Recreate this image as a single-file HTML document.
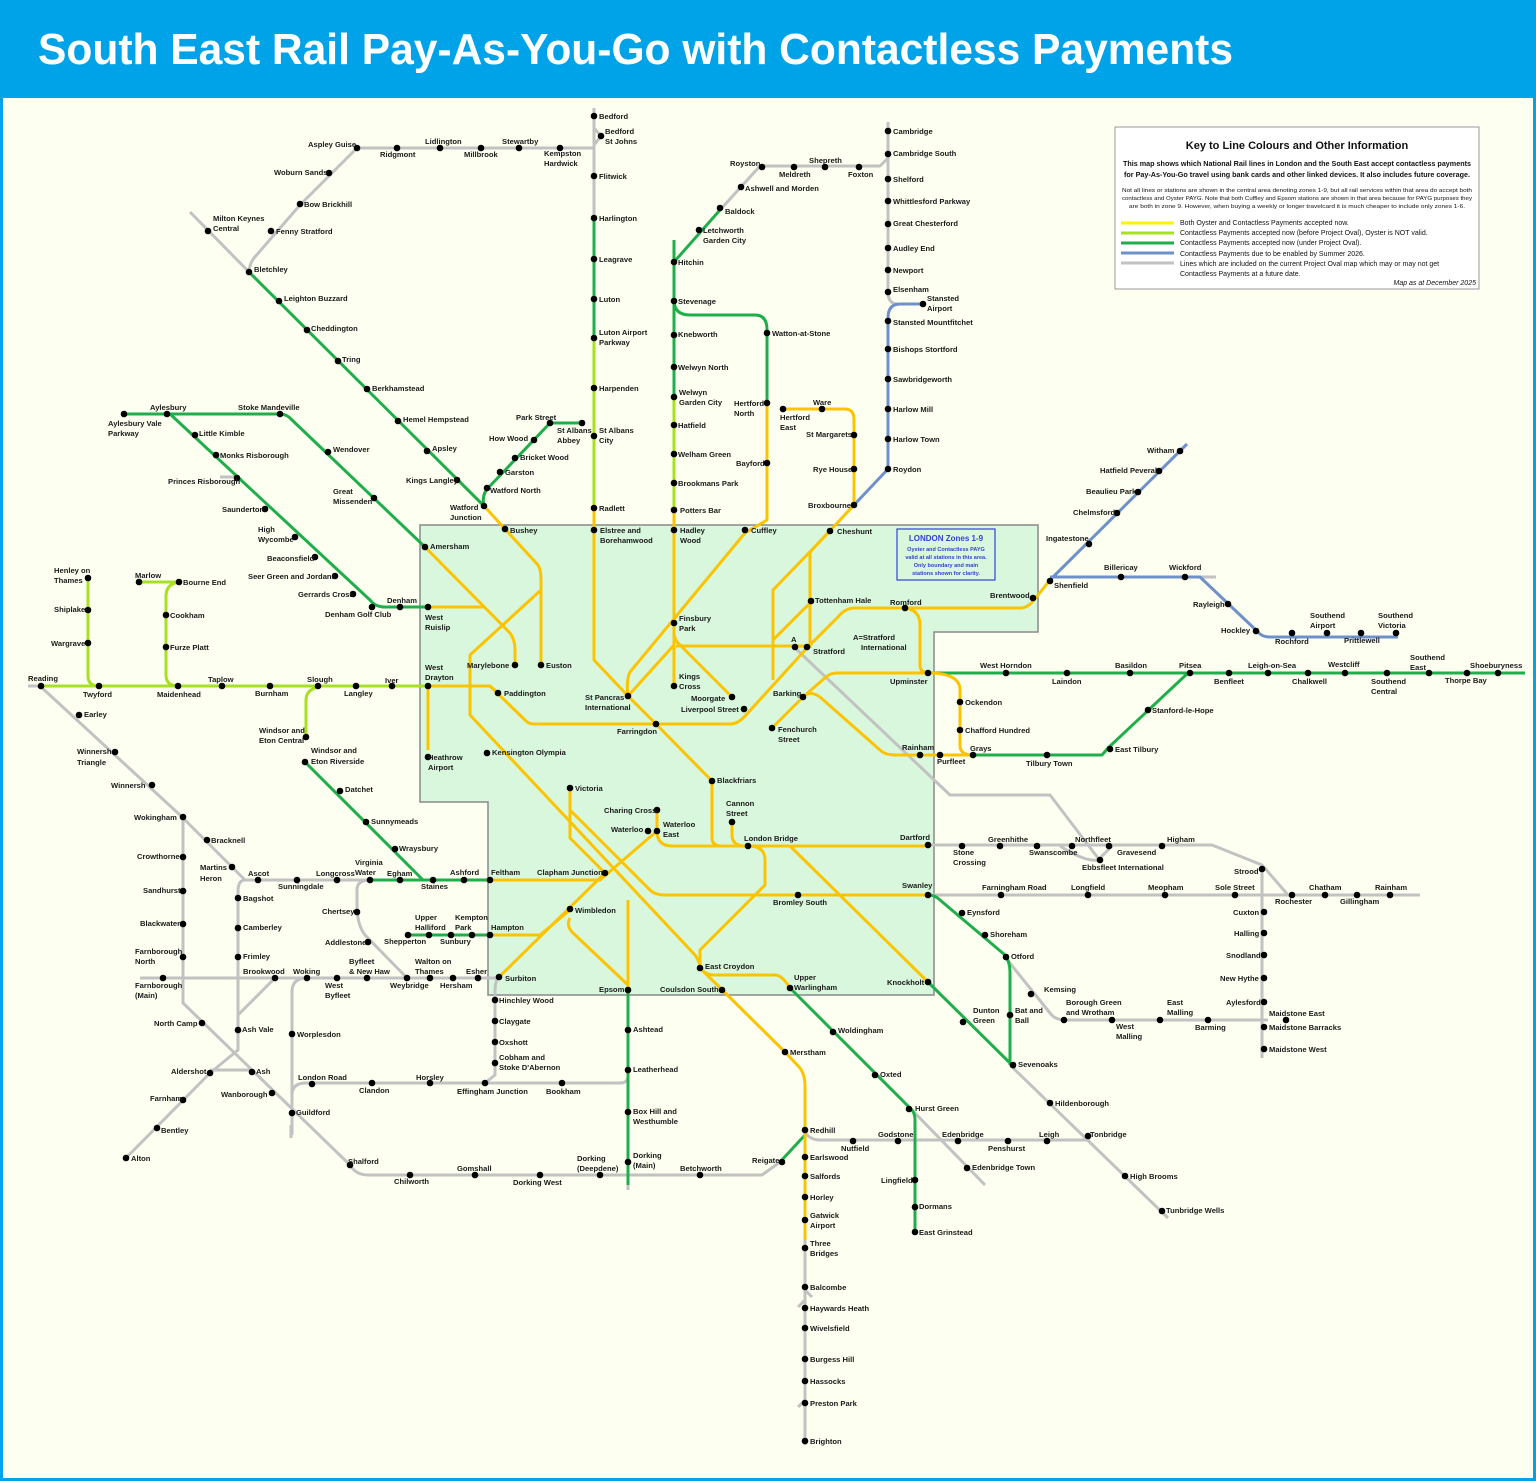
<!DOCTYPE html>
<html><head><meta charset="utf-8"><style>
html,body{margin:0;padding:0;background:#fff}
svg{display:block}
.s text{font-family:"Liberation Sans",sans-serif;font-weight:bold;font-size:7.6px;fill:#1a1a1a}
.l{fill:none;stroke-width:3;stroke-linejoin:round;stroke-linecap:butt}
.y{stroke:#fcc400}.g{stroke:#1fae4b}.m{stroke:#a8e022}.b{stroke:#6f90c8}.r{stroke:#c2c2c2}
</style></head><body>
<svg width="1536" height="1481" viewBox="0 0 1536 1481" xmlns="http://www.w3.org/2000/svg">
<rect x="0" y="0" width="1536" height="1481" fill="#00a3e8"/>
<rect x="3" y="98" width="1530" height="1380" fill="#fdfff0"/>
<text x="38" y="64" font-family="Liberation Sans,sans-serif" font-weight="bold" font-size="44" fill="#fff" textLength="1195" lengthAdjust="spacingAndGlyphs">South East Rail Pay-As-You-Go with Contactless Payments</text>

<polygon points="420,525 1038,525 1038,632 934,632 934,995 488,995 488,802 420,802" fill="#d8f7dc" stroke="#8a8a8a" stroke-width="1.5"/>

<!-- key -->
<rect x="1115" y="127" width="364" height="162" fill="#fff" stroke="#999" stroke-width="1"/>
<g font-family="Liberation Sans,sans-serif" fill="#111">
<text x="1297" y="149" font-size="11" font-weight="bold" text-anchor="middle">Key to Line Colours and Other Information</text>
<text x="1297" y="166" font-size="7" font-weight="bold" text-anchor="middle" textLength="348" lengthAdjust="spacingAndGlyphs">This map shows which National Rail lines in London and the South East accept contactless payments</text>
<text x="1297" y="177" font-size="7" font-weight="bold" text-anchor="middle" textLength="346" lengthAdjust="spacingAndGlyphs">for Pay-As-You-Go travel using bank cards and other linked devices. It also includes future coverage.</text>
<text x="1297" y="192" font-size="5.4" text-anchor="middle" textLength="350" lengthAdjust="spacingAndGlyphs">Not all lines or stations are shown in the central area denoting zones 1-9, but all rail services within that area do accept both</text>
<text x="1297" y="200" font-size="5.4" text-anchor="middle" textLength="350" lengthAdjust="spacingAndGlyphs">contactless and Oyster PAYG. Note that both Cuffley and Epsom stations are shown in that area because for PAYG purposes they</text>
<text x="1297" y="208" font-size="5.4" text-anchor="middle" textLength="336" lengthAdjust="spacingAndGlyphs">are both in zone 9. However, when buying a weekly or longer travelcard it is much cheaper to include only zones 1-6.</text>
<g font-size="7">
<text x="1180" y="225">Both Oyster and Contactless Payments accepted now.</text>
<text x="1180" y="235">Contactless Payments accepted now (before Project Oval), Oyster is NOT valid.</text>
<text x="1180" y="245">Contactless Payments accepted now (under Project Oval).</text>
<text x="1180" y="256">Contactless Payments due to be enabled by Summer 2026.</text>
<text x="1180" y="266">Lines which are included on the current Project Oval map which may or may not get</text>
<text x="1180" y="276">Contactless Payments at a future date.</text>
<text x="1476" y="285" font-style="italic" text-anchor="end">Map as at December 2025</text>
</g></g>
<g stroke-width="3">
<line x1="1121" y1="223" x2="1174" y2="223" stroke="#fff200"/>
<line x1="1121" y1="233" x2="1174" y2="233" stroke="#a8e022"/>
<line x1="1121" y1="243" x2="1174" y2="243" stroke="#1fae4b"/>
<line x1="1121" y1="253" x2="1174" y2="253" stroke="#6f90c8"/>
<line x1="1121" y1="263" x2="1174" y2="263" stroke="#c2c2c2"/>
</g>

<rect x="897" y="529" width="98" height="51" fill="none" stroke="#3344dd" stroke-width="1.2"/>
<g font-family="Liberation Sans,sans-serif" font-weight="bold" fill="#3344cc" text-anchor="middle">
<text x="946" y="541" font-size="8">LONDON Zones 1-9</text>
<text x="946" y="551" font-size="5.5">Oyster and Contactless PAYG</text>
<text x="946" y="559" font-size="5.5">valid at all stations in this area.</text>
<text x="946" y="567" font-size="5.5">Only boundary and main</text>
<text x="946" y="575" font-size="5.5">stations shown for clarity.</text>
</g>

<!-- GRAY -->
<g class="l r">
<path d="M594,108 V218"/><path d="M594,128 L601,136 L594,145"/>
<path d="M594,148 H357 L300,205 L254,258 Q249,265 249,272"/>
<path d="M190,212 L249,272"/>
<path d="M888,122 V292 Q888,304 898,304"/>
<path d="M888,158 L880,166 H760 L720,210"/>
<path d="M1198,577 H1216"/>
<path d="M28,686 H40"/>
<path d="M220,477 H236"/>
<path d="M40,686 L180,815 L245,880 H370"/>
<path d="M183,817 V1003 L350,1165 Q356,1175 368,1175 H762 L780,1162"/>
<path d="M245,880 Q238,880 238,892 V1050 L210,1073 L126,1158"/>
<path d="M210,1070 H252"/>
<path d="M275,978 L238,1015"/>
<path d="M140,978 H497"/>
<path d="M307,978 Q292,978 292,992 V1135"/>
<path d="M292,1095 Q292,1083 306,1083 H620 Q628,1083 628,1076"/>
<path d="M499,977 Q495,980 495,992 V1075 L485,1083"/>
<path d="M407,978 L365,935 Q357,925 357,905 V890 Q357,880 370,880"/>
<path d="M805,1132 Q810,1140 820,1140 H1090"/>
<path d="M910,1108 L985,1185"/>
<path d="M1010,1065 L1168,1218"/>
<path d="M1005,957 L1050,1013 Q1055,1020 1065,1020 H1268"/>
<path d="M1262,865 V1058"/>
<path d="M928,845 H1212 L1262,865 L1288,895"/>
<path d="M1060,846 Q1085,862 1098,860 L1112,846"/>
<path d="M795,648 L950,795 H1050 L1098,858"/>
<path d="M928,895 H1420"/>
<path d="M805,1240 V1445"/>
<path d="M805,1300 L798,1307 M805,1400 L798,1407 M805,1290 L812,1297"/>
<path d="M628,1185 V1190"/>
<path d="M291,1125 V1138"/>
</g>

<!-- BLUE -->
<g class="l b">
<path d="M923,304 H900 Q888,304 888,318 V469 L854,505"/>
<path d="M1187,444 L1050,580"/>
<path d="M1050,577 H1200 L1258,632 Q1262,637 1270,637 H1398"/>
</g>

<!-- LIME -->
<g class="l m">
<path d="M594,338 V508"/>
<path d="M674,397 V510"/>
<path d="M40,686 H428"/>
<path d="M88,577 V676 Q88,686 99,686"/>
<path d="M139,582 H179 Q166,584 166,596 V675 Q166,686 178,686"/>
<path d="M318,687 Q306,690 306,700 V737"/>
</g>

<!-- GREEN -->
<g class="l g">
<path d="M594,218 V338"/>
<path d="M674,240 V397"/>
<path d="M674,262 L720,210"/>
<path d="M674,300 Q674,315 690,315 H755 Q767,315 767,330 V402"/>
<path d="M124,414 H280 Q287,414 292,420 L425,547"/>
<path d="M170,414 L370,600 Q375,607 385,607 H428"/>
<path d="M249,272 L484,506"/>
<path d="M484,506 Q481,494 490,486 L550,423 H582"/>
<path d="M305,762 L423,880"/>
<path d="M370,880 H490"/>
<path d="M408,935 H490"/>
<path d="M628,990 V1185"/>
<path d="M790,988 L912,1110 Q915,1114 915,1120 V1232"/>
<path d="M780,1162 L805,1135"/>
<path d="M928,895 Q935,895 940,900 L1005,955 Q1010,962 1010,972 V1065"/>
<path d="M928,982 L1015,1068"/>
<path d="M928,673 H1525"/>
<path d="M1188,673 L1108,748 L1102,755 H972"/>
</g>

<!-- YELLOW -->
<g class="l y">
<path d="M594,508 V660 L628,696 L656,724 L712,781 V838 Q712,846 722,846 H928"/>
<path d="M428,686 H490 L525,720 Q528,724 535,724 H730 Q738,724 745,716 L807,648 L838,617 Q845,608 855,608 H1020 Q1028,608 1034,600 L1050,580"/>
<path d="M490,686 L498,693"/>
<path d="M905,608 Q920,610 920,625 V665 Q920,673 930,673"/>
<path d="M928,673 Q960,673 960,690 V745 Q960,755 972,755"/>
<path d="M772,728 L803,697 L826,677 Q830,673 838,673 H928"/>
<path d="M803,697 Q810,690 820,697 L880,750 Q885,755 895,755 H972"/>
<path d="M674,510 V686"/>
<path d="M767,402 V520 L745,533 L630,672 Q626,680 628,696"/>
<path d="M674,645 L628,696"/>
<path d="M674,632 Q674,640 680,645 L732,697"/>
<path d="M676,646 H807"/>
<path d="M854,505 L810,552 V648"/>
<path d="M830,531 L773,590 V680"/>
<path d="M811,602 L773,640"/>
<path d="M783,409 H845 Q854,409 854,420 V505"/>
<path d="M425,547 L510,633 Q515,640 515,650 V665"/>
<path d="M428,607 H485"/>
<path d="M484,506 L538,565 Q541,570 541,580 V665"/>
<path d="M428,686 V750"/>
<path d="M541,590 L470,655 V715 L695,955 Q700,962 700,968"/>
<path d="M490,880 H600 L657,831 V810"/>
<path d="M657,831 Q657,846 672,846 H748"/>
<path d="M732,822 V835 Q732,846 745,846"/>
<path d="M605,873 L570,838 V788"/>
<path d="M570,810 L650,890 Q655,895 665,895 H928"/>
<path d="M490,935 H540 L570,910"/>
<path d="M499,977 L605,873"/>
<path d="M570,918 Q566,925 572,932 L628,985"/>
<path d="M628,900 V990"/>
<path d="M748,846 Q765,846 765,860 V885 L700,950 V968 L785,1052 L800,1068 Q805,1075 805,1085 V1240"/>
<path d="M700,968 Q705,975 715,975 H775 Q782,975 790,988"/>
<path d="M790,846 L928,982"/>
</g>

<!-- STATIONS -->
<g fill="#000">
<circle cx="594" cy="116" r="3.3"/><circle cx="601" cy="136" r="3.3"/><circle cx="594" cy="176" r="3.3"/><circle cx="594" cy="218" r="3.3"/><circle cx="594" cy="259" r="3.3"/><circle cx="594" cy="299" r="3.3"/><circle cx="594" cy="338" r="3.3"/><circle cx="594" cy="388" r="3.3"/><circle cx="594" cy="436" r="3.3"/><circle cx="594" cy="508" r="3.3"/><circle cx="594" cy="530" r="3.3"/>
<circle cx="357" cy="148" r="3.3"/><circle cx="397" cy="148" r="3.3"/><circle cx="440" cy="148" r="3.3"/><circle cx="481" cy="148" r="3.3"/><circle cx="519" cy="148" r="3.3"/><circle cx="560" cy="148" r="3.3"/><circle cx="329" cy="173" r="3.3"/><circle cx="300" cy="204" r="3.3"/><circle cx="271" cy="231" r="3.3"/><circle cx="208" cy="231" r="3.3"/><circle cx="249" cy="272" r="3.3"/>
<circle cx="279" cy="301" r="3.3"/><circle cx="307" cy="330" r="3.3"/><circle cx="338" cy="361" r="3.3"/><circle cx="367" cy="389" r="3.3"/><circle cx="398" cy="421" r="3.3"/><circle cx="427" cy="451" r="3.3"/><circle cx="457" cy="480" r="3.3"/><circle cx="484" cy="506" r="3.3"/>
<circle cx="487" cy="488" r="3.3"/><circle cx="500" cy="472" r="3.3"/><circle cx="515" cy="458" r="3.3"/><circle cx="534" cy="440" r="3.3"/><circle cx="550" cy="423" r="3.3"/><circle cx="582" cy="423" r="3.3"/>
<circle cx="124" cy="414" r="3.3"/><circle cx="167" cy="414" r="3.3"/><circle cx="280" cy="414" r="3.3"/><circle cx="328" cy="452" r="3.3"/><circle cx="374" cy="498" r="3.3"/><circle cx="425" cy="547" r="3.3"/>
<circle cx="195" cy="435" r="3.3"/><circle cx="216" cy="455" r="3.3"/><circle cx="237" cy="478" r="3.3"/><circle cx="265" cy="509" r="3.3"/><circle cx="295" cy="537" r="3.3"/><circle cx="315" cy="557" r="3.3"/><circle cx="335" cy="576" r="3.3"/><circle cx="353" cy="594" r="3.3"/><circle cx="372" cy="607" r="3.3"/><circle cx="400" cy="607" r="3.3"/><circle cx="428" cy="607" r="3.3"/>
<circle cx="88" cy="578" r="3.3"/><circle cx="88" cy="610" r="3.3"/><circle cx="88" cy="643" r="3.3"/><circle cx="139" cy="582" r="3.3"/><circle cx="179" cy="582" r="3.3"/><circle cx="166" cy="615" r="3.3"/><circle cx="166" cy="647" r="3.3"/>
<circle cx="41" cy="686" r="3.3"/><circle cx="99" cy="686" r="3.3"/><circle cx="178" cy="686" r="3.3"/><circle cx="222" cy="686" r="3.3"/><circle cx="270" cy="686" r="3.3"/><circle cx="318" cy="686" r="3.3"/><circle cx="356" cy="686" r="3.3"/><circle cx="392" cy="686" r="3.3"/><circle cx="428" cy="686" r="3.3"/><circle cx="306" cy="737" r="3.3"/><circle cx="305" cy="762" r="3.3"/>
<circle cx="79" cy="715" r="3.3"/><circle cx="115" cy="752" r="3.3"/><circle cx="152" cy="785" r="3.3"/><circle cx="183" cy="817" r="3.3"/><circle cx="207" cy="840" r="3.3"/><circle cx="232" cy="867" r="3.3"/><circle cx="258" cy="880" r="3.3"/><circle cx="297" cy="880" r="3.3"/><circle cx="337" cy="880" r="3.3"/><circle cx="370" cy="880" r="3.3"/><circle cx="400" cy="880" r="3.3"/><circle cx="433" cy="880" r="3.3"/><circle cx="464" cy="880" r="3.3"/><circle cx="490" cy="880" r="3.3"/>
<circle cx="340" cy="791" r="3.3"/><circle cx="366" cy="822" r="3.3"/><circle cx="395" cy="849" r="3.3"/>
<circle cx="183" cy="857" r="3.3"/><circle cx="183" cy="891" r="3.3"/><circle cx="183" cy="924" r="3.3"/><circle cx="183" cy="957" r="3.3"/><circle cx="163" cy="978" r="3.3"/><circle cx="202" cy="1023" r="3.3"/><circle cx="252" cy="1072" r="3.3"/><circle cx="272" cy="1093" r="3.3"/><circle cx="292" cy="1113" r="3.3"/><circle cx="350" cy="1165" r="3.3"/>
<circle cx="238" cy="898" r="3.3"/><circle cx="238" cy="928" r="3.3"/><circle cx="238" cy="957" r="3.3"/><circle cx="238" cy="1030" r="3.3"/><circle cx="210" cy="1073" r="3.3"/><circle cx="183" cy="1100" r="3.3"/><circle cx="157" cy="1128" r="3.3"/><circle cx="126" cy="1158" r="3.3"/>
<circle cx="275" cy="978" r="3.3"/><circle cx="307" cy="978" r="3.3"/><circle cx="337" cy="978" r="3.3"/><circle cx="367" cy="978" r="3.3"/><circle cx="407" cy="978" r="3.3"/><circle cx="430" cy="978" r="3.3"/><circle cx="453" cy="978" r="3.3"/><circle cx="478" cy="978" r="3.3"/><circle cx="499" cy="977" r="3.3"/>
<circle cx="357" cy="912" r="3.3"/><circle cx="368" cy="942" r="3.3"/><circle cx="408" cy="935" r="3.3"/><circle cx="429" cy="935" r="3.3"/><circle cx="451" cy="935" r="3.3"/><circle cx="472" cy="935" r="3.3"/><circle cx="490" cy="935" r="3.3"/>
<circle cx="292" cy="1034" r="3.3"/><circle cx="312" cy="1084" r="3.3"/><circle cx="372" cy="1083" r="3.3"/><circle cx="430" cy="1083" r="3.3"/><circle cx="485" cy="1083" r="3.3"/><circle cx="562" cy="1083" r="3.3"/>
<circle cx="495" cy="1000" r="3.3"/><circle cx="495" cy="1021" r="3.3"/><circle cx="495" cy="1042" r="3.3"/><circle cx="495" cy="1063" r="3.3"/>
<circle cx="410" cy="1175" r="3.3"/><circle cx="475" cy="1175" r="3.3"/><circle cx="540" cy="1175" r="3.3"/><circle cx="600" cy="1175" r="3.3"/><circle cx="628" cy="1162" r="3.3"/><circle cx="700" cy="1175" r="3.3"/><circle cx="782" cy="1162" r="3.3"/>
<circle cx="628" cy="1030" r="3.3"/><circle cx="628" cy="1070" r="3.3"/><circle cx="628" cy="1112" r="3.3"/><circle cx="628" cy="990" r="3.3"/>
<circle cx="805" cy="1130" r="3.3"/><circle cx="805" cy="1157" r="3.3"/><circle cx="805" cy="1176" r="3.3"/><circle cx="805" cy="1197" r="3.3"/><circle cx="805" cy="1220" r="3.3"/><circle cx="805" cy="1248" r="3.3"/><circle cx="805" cy="1287" r="3.3"/><circle cx="805" cy="1308" r="3.3"/><circle cx="805" cy="1328" r="3.3"/><circle cx="805" cy="1359" r="3.3"/><circle cx="805" cy="1381" r="3.3"/><circle cx="805" cy="1403" r="3.3"/><circle cx="805" cy="1441" r="3.3"/><circle cx="785" cy="1052" r="3.3"/>
<circle cx="853" cy="1141" r="3.3"/><circle cx="898" cy="1141" r="3.3"/><circle cx="958" cy="1141" r="3.3"/><circle cx="1008" cy="1141" r="3.3"/><circle cx="1047" cy="1141" r="3.3"/><circle cx="967" cy="1168" r="3.3"/><circle cx="1088" cy="1136" r="3.3"/>
<circle cx="790" cy="988" r="3.3"/><circle cx="833" cy="1032" r="3.3"/><circle cx="875" cy="1075" r="3.3"/><circle cx="909" cy="1109" r="3.3"/><circle cx="915" cy="1180" r="3.3"/><circle cx="915" cy="1207" r="3.3"/><circle cx="915" cy="1232" r="3.3"/>
<circle cx="1050" cy="1103" r="3.3"/><circle cx="1125" cy="1176" r="3.3"/><circle cx="1162" cy="1211" r="3.3"/>
<circle cx="928" cy="845" r="3.3"/><circle cx="962" cy="846" r="3.3"/><circle cx="1000" cy="846" r="3.3"/><circle cx="1037" cy="846" r="3.3"/><circle cx="1072" cy="846" r="3.3"/><circle cx="1100" cy="860" r="3.3"/><circle cx="1109" cy="846" r="3.3"/><circle cx="1162" cy="846" r="3.3"/><circle cx="1262" cy="869" r="3.3"/>
<circle cx="928" cy="895" r="3.3"/><circle cx="1001" cy="895" r="3.3"/><circle cx="1088" cy="895" r="3.3"/><circle cx="1165" cy="895" r="3.3"/><circle cx="1235" cy="895" r="3.3"/><circle cx="1292" cy="895" r="3.3"/><circle cx="1325" cy="895" r="3.3"/><circle cx="1357" cy="895" r="3.3"/><circle cx="1390" cy="895" r="3.3"/>
<circle cx="1264" cy="912" r="3.3"/><circle cx="1264" cy="933" r="3.3"/><circle cx="1264" cy="955" r="3.3"/><circle cx="1264" cy="978" r="3.3"/><circle cx="1264" cy="1002" r="3.3"/><circle cx="1264" cy="1027" r="3.3"/><circle cx="1264" cy="1049" r="3.3"/><circle cx="1286" cy="1020" r="3.3"/>
<circle cx="962" cy="913" r="3.3"/><circle cx="985" cy="935" r="3.3"/><circle cx="1006" cy="957" r="3.3"/><circle cx="1010" cy="1015" r="3.3"/><circle cx="963" cy="1022" r="3.3"/><circle cx="1013" cy="1065" r="3.3"/><circle cx="928" cy="982" r="3.3"/>
<circle cx="1031" cy="994" r="3.3"/><circle cx="1064" cy="1020" r="3.3"/><circle cx="1112" cy="1020" r="3.3"/><circle cx="1160" cy="1020" r="3.3"/><circle cx="1208" cy="1020" r="3.3"/>
<circle cx="888" cy="131" r="3.3"/><circle cx="888" cy="154" r="3.3"/><circle cx="888" cy="179" r="3.3"/><circle cx="888" cy="201" r="3.3"/><circle cx="888" cy="224" r="3.3"/><circle cx="888" cy="248" r="3.3"/><circle cx="888" cy="270" r="3.3"/><circle cx="888" cy="292" r="3.3"/><circle cx="923" cy="304" r="3.3"/><circle cx="888" cy="321" r="3.3"/><circle cx="888" cy="349" r="3.3"/><circle cx="888" cy="379" r="3.3"/><circle cx="888" cy="409" r="3.3"/><circle cx="888" cy="439" r="3.3"/><circle cx="888" cy="469" r="3.3"/>
<circle cx="762" cy="167" r="3.3"/><circle cx="794" cy="167" r="3.3"/><circle cx="825" cy="167" r="3.3"/><circle cx="859" cy="167" r="3.3"/><circle cx="741" cy="187" r="3.3"/><circle cx="720" cy="208" r="3.3"/><circle cx="699" cy="230" r="3.3"/>
<circle cx="674" cy="262" r="3.3"/><circle cx="674" cy="301" r="3.3"/><circle cx="674" cy="335" r="3.3"/><circle cx="674" cy="367" r="3.3"/><circle cx="674" cy="397" r="3.3"/><circle cx="674" cy="425" r="3.3"/><circle cx="674" cy="454" r="3.3"/><circle cx="674" cy="483" r="3.3"/><circle cx="674" cy="510" r="3.3"/><circle cx="674" cy="530" r="3.3"/>
<circle cx="767" cy="333" r="3.3"/><circle cx="767" cy="403" r="3.3"/><circle cx="767" cy="463" r="3.3"/><circle cx="745" cy="530" r="3.3"/>
<circle cx="783" cy="409" r="3.3"/><circle cx="822" cy="409" r="3.3"/><circle cx="854" cy="435" r="3.3"/><circle cx="854" cy="469" r="3.3"/><circle cx="854" cy="505" r="3.3"/><circle cx="830" cy="531" r="3.3"/>
<circle cx="1180" cy="451" r="3.3"/><circle cx="1159" cy="471" r="3.3"/><circle cx="1138" cy="492" r="3.3"/><circle cx="1117" cy="513" r="3.3"/><circle cx="1089" cy="544" r="3.3"/><circle cx="1050" cy="581" r="3.3"/><circle cx="1033" cy="598" r="3.3"/>
<circle cx="1121" cy="577" r="3.3"/><circle cx="1185" cy="577" r="3.3"/><circle cx="1228" cy="604" r="3.3"/><circle cx="1256" cy="631" r="3.3"/><circle cx="1292" cy="633" r="3.3"/><circle cx="1327" cy="633" r="3.3"/><circle cx="1361" cy="633" r="3.3"/><circle cx="1396" cy="633" r="3.3"/>
<circle cx="928" cy="673" r="3.3"/><circle cx="1006" cy="673" r="3.3"/><circle cx="1067" cy="673" r="3.3"/><circle cx="1130" cy="673" r="3.3"/><circle cx="1190" cy="673" r="3.3"/><circle cx="1229" cy="673" r="3.3"/><circle cx="1268" cy="673" r="3.3"/><circle cx="1308" cy="673" r="3.3"/><circle cx="1345" cy="673" r="3.3"/><circle cx="1387" cy="673" r="3.3"/><circle cx="1429" cy="673" r="3.3"/><circle cx="1467" cy="673" r="3.3"/><circle cx="1498" cy="673" r="3.3"/>
<circle cx="1148" cy="710" r="3.3"/><circle cx="1110" cy="749" r="3.3"/><circle cx="1047" cy="755" r="3.3"/><circle cx="973" cy="755" r="3.3"/><circle cx="940" cy="755" r="3.3"/><circle cx="920" cy="755" r="3.3"/><circle cx="960" cy="702" r="3.3"/><circle cx="960" cy="730" r="3.3"/><circle cx="905" cy="608" r="3.3"/>
<circle cx="505" cy="529" r="3.3"/><circle cx="515" cy="665" r="3.3"/><circle cx="541" cy="665" r="3.3"/><circle cx="498" cy="693" r="3.3"/><circle cx="428" cy="757" r="3.3"/><circle cx="487" cy="753" r="3.3"/>
<circle cx="628" cy="696" r="3.3"/><circle cx="656" cy="724" r="3.3"/><circle cx="674" cy="686" r="3.3"/><circle cx="674" cy="623" r="3.3"/><circle cx="732" cy="697" r="3.3"/><circle cx="744" cy="709" r="3.3"/><circle cx="795" cy="647" r="3.3"/><circle cx="807" cy="647" r="3.3"/><circle cx="811" cy="601" r="3.3"/><circle cx="803" cy="697" r="3.3"/><circle cx="772" cy="728" r="3.3"/>
<circle cx="712" cy="781" r="3.3"/><circle cx="732" cy="822" r="3.3"/><circle cx="748" cy="846" r="3.3"/><circle cx="570" cy="788" r="3.3"/><circle cx="657" cy="810" r="3.3"/><circle cx="648" cy="831" r="3.3"/><circle cx="657" cy="831" r="3.3"/><circle cx="605" cy="873" r="3.3"/><circle cx="570" cy="909" r="3.3"/><circle cx="798" cy="895" r="3.3"/><circle cx="700" cy="968" r="3.3"/><circle cx="722" cy="990" r="3.3"/>
</g>

<!-- LABELS -->
<g class="s">
<text x="599" y="119">Bedford</text><text x="605" y="134">Bedford</text><text x="605" y="144">St Johns</text><text x="599" y="179">Flitwick</text><text x="599" y="221">Harlington</text><text x="599" y="262">Leagrave</text><text x="599" y="302">Luton</text><text x="599" y="335">Luton Airport</text><text x="599" y="345">Parkway</text><text x="599" y="391">Harpenden</text><text x="599" y="433">St Albans</text><text x="599" y="443">City</text><text x="599" y="511">Radlett</text><text x="600" y="533">Elstree and</text><text x="600" y="543">Borehamwood</text>
<text x="308" y="147">Aspley Guise</text><text x="380" y="157">Ridgmont</text><text x="425" y="144">Lidlington</text><text x="464" y="157">Millbrook</text><text x="502" y="144">Stewartby</text><text x="544" y="156">Kempston</text><text x="544" y="166">Hardwick</text><text x="274" y="175">Woburn Sands</text><text x="304" y="207">Bow Brickhill</text><text x="276" y="234">Fenny Stratford</text><text x="213" y="221">Milton Keynes</text><text x="213" y="231">Central</text><text x="254" y="272">Bletchley</text>
<text x="284" y="301">Leighton Buzzard</text><text x="311" y="331">Cheddington</text><text x="342" y="362">Tring</text><text x="372" y="391">Berkhamstead</text><text x="403" y="422">Hemel Hempstead</text><text x="432" y="451">Apsley</text><text x="406" y="483">Kings Langley</text><text x="450" y="510">Watford</text><text x="450" y="520">Junction</text>
<text x="490" y="493">Watford North</text><text x="505" y="475">Garston</text><text x="520" y="460">Bricket Wood</text><text x="489" y="441">How Wood</text><text x="516" y="420">Park Street</text><text x="557" y="433">St Albans</text><text x="557" y="443">Abbey</text>
<text x="150" y="410">Aylesbury</text><text x="108" y="426">Aylesbury Vale</text><text x="108" y="436">Parkway</text><text x="238" y="410">Stoke Mandeville</text><text x="333" y="452">Wendover</text><text x="333" y="494">Great</text><text x="333" y="504">Missenden</text><text x="430" y="549">Amersham</text>
<text x="199" y="436">Little Kimble</text><text x="220" y="458">Monks Risborough</text><text x="168" y="484">Princes Risborough</text><text x="222" y="512">Saunderton</text><text x="258" y="532">High</text><text x="258" y="542">Wycombe</text><text x="267" y="561">Beaconsfield</text><text x="248" y="579">Seer Green and Jordans</text><text x="298" y="597">Gerrards Cross</text><text x="325" y="617">Denham Golf Club</text><text x="387" y="603">Denham</text><text x="425" y="620">West</text><text x="425" y="630">Ruislip</text>
<text x="54" y="573">Henley on</text><text x="54" y="583">Thames</text><text x="54" y="612">Shiplake</text><text x="51" y="646">Wargrave</text><text x="135" y="578">Marlow</text><text x="183" y="585">Bourne End</text><text x="170" y="618">Cookham</text><text x="170" y="650">Furze Platt</text>
<text x="28" y="681">Reading</text><text x="83" y="697">Twyford</text><text x="157" y="697">Maidenhead</text><text x="208" y="682">Taplow</text><text x="255" y="696">Burnham</text><text x="307" y="682">Slough</text><text x="344" y="696">Langley</text><text x="385" y="683">Iver</text><text x="425" y="670">West</text><text x="425" y="680">Drayton</text>
<text x="259" y="733">Windsor and</text><text x="259" y="743">Eton Central</text><text x="311" y="753">Windsor and</text><text x="311" y="764">Eton Riverside</text>
<text x="84" y="717">Earley</text><text x="77" y="754">Winnersh</text><text x="77" y="765">Triangle</text><text x="111" y="788">Winnersh</text><text x="134" y="820">Wokingham</text><text x="211" y="843">Bracknell</text><text x="200" y="870">Martins</text><text x="200" y="881">Heron</text><text x="248" y="876">Ascot</text><text x="278" y="889">Sunningdale</text><text x="316" y="876">Longcross</text><text x="355" y="865">Virginia</text><text x="355" y="875">Water</text><text x="387" y="876">Egham</text><text x="421" y="889">Staines</text><text x="450" y="875">Ashford</text><text x="491" y="875">Feltham</text>
<text x="345" y="792">Datchet</text><text x="371" y="824">Sunnymeads</text><text x="399" y="851">Wraysbury</text>
<text x="137" y="859">Crowthorne</text><text x="143" y="893">Sandhurst</text><text x="140" y="926">Blackwater</text><text x="135" y="954">Farnborough</text><text x="135" y="964">North</text><text x="135" y="988">Farnborough</text><text x="135" y="998">(Main)</text><text x="154" y="1026">North Camp</text><text x="256" y="1074">Ash</text><text x="221" y="1097">Wanborough</text><text x="296" y="1115">Guildford</text><text x="348" y="1164">Shalford</text>
<text x="243" y="901">Bagshot</text><text x="243" y="930">Camberley</text><text x="243" y="959">Frimley</text><text x="242" y="1032">Ash Vale</text><text x="171" y="1074">Aldershot</text><text x="150" y="1101">Farnham</text><text x="161" y="1133">Bentley</text><text x="131" y="1161">Alton</text>
<text x="243" y="974">Brookwood</text><text x="293" y="974">Woking</text><text x="325" y="988">West</text><text x="325" y="998">Byfleet</text><text x="349" y="964">Byfleet</text><text x="349" y="974">&amp; New Haw</text><text x="390" y="988">Weybridge</text><text x="415" y="964">Walton on</text><text x="415" y="974">Thames</text><text x="440" y="988">Hersham</text><text x="466" y="974">Esher</text><text x="505" y="981">Surbiton</text>
<text x="322" y="914">Chertsey</text><text x="325" y="945">Addlestone</text><text x="415" y="920">Upper</text><text x="415" y="930">Halliford</text><text x="384" y="944">Shepperton</text><text x="440" y="944">Sunbury</text><text x="455" y="920">Kempton</text><text x="455" y="930">Park</text><text x="491" y="930">Hampton</text>
<text x="297" y="1037">Worplesdon</text><text x="298" y="1080">London Road</text><text x="359" y="1093">Clandon</text><text x="416" y="1080">Horsley</text><text x="457" y="1094">Effingham Junction</text><text x="546" y="1094">Bookham</text>
<text x="499" y="1003">Hinchley Wood</text><text x="499" y="1024">Claygate</text><text x="499" y="1045">Oxshott</text><text x="499" y="1060">Cobham and</text><text x="499" y="1070">Stoke D'Abernon</text>
<text x="394" y="1184">Chilworth</text><text x="457" y="1171">Gomshall</text><text x="513" y="1185">Dorking West</text><text x="577" y="1161">Dorking</text><text x="577" y="1171">(Deepdene)</text><text x="633" y="1158">Dorking</text><text x="633" y="1168">(Main)</text><text x="680" y="1171">Betchworth</text><text x="752" y="1163">Reigate</text>
<text x="633" y="1032">Ashtead</text><text x="633" y="1072">Leatherhead</text><text x="633" y="1114">Box Hill and</text><text x="633" y="1124">Westhumble</text><text x="599" y="992">Epsom</text>
<text x="810" y="1133">Redhill</text><text x="810" y="1160">Earlswood</text><text x="810" y="1179">Salfords</text><text x="810" y="1200">Horley</text><text x="810" y="1218">Gatwick</text><text x="810" y="1228">Airport</text><text x="810" y="1246">Three</text><text x="810" y="1256">Bridges</text><text x="810" y="1290">Balcombe</text><text x="810" y="1311">Haywards Heath</text><text x="810" y="1331">Wivelsfield</text><text x="810" y="1362">Burgess Hill</text><text x="810" y="1384">Hassocks</text><text x="810" y="1406">Preston Park</text><text x="810" y="1444">Brighton</text><text x="790" y="1055">Merstham</text>
<text x="841" y="1151">Nutfield</text><text x="878" y="1137">Godstone</text><text x="942" y="1137">Edenbridge</text><text x="988" y="1151">Penshurst</text><text x="1039" y="1137">Leigh</text><text x="1090" y="1137">Tonbridge</text><text x="972" y="1170">Edenbridge Town</text><text x="1055" y="1106">Hildenborough</text><text x="1130" y="1179">High Brooms</text><text x="1166" y="1213">Tunbridge Wells</text>
<text x="794" y="980">Upper</text><text x="794" y="990">Warlingham</text><text x="838" y="1033">Woldingham</text><text x="880" y="1077">Oxted</text><text x="915" y="1111">Hurst Green</text><text x="881" y="1183">Lingfield</text><text x="919" y="1209">Dormans</text><text x="919" y="1235">East Grinstead</text>
<text x="705" y="969">East Croydon</text><text x="660" y="992">Coulsdon South</text><text x="887" y="985">Knockholt</text>
<text x="900" y="840">Dartford</text><text x="953" y="855">Stone</text><text x="953" y="865">Crossing</text><text x="988" y="842">Greenhithe</text><text x="1029" y="855">Swanscombe</text><text x="1075" y="842">Northfleet</text><text x="1082" y="870">Ebbsfleet International</text><text x="1117" y="855">Gravesend</text><text x="1167" y="842">Higham</text><text x="1234" y="874">Strood</text>
<text x="902" y="888">Swanley</text><text x="982" y="890">Farningham Road</text><text x="1071" y="890">Longfield</text><text x="1148" y="890">Meopham</text><text x="1215" y="890">Sole Street</text><text x="1275" y="904">Rochester</text><text x="1309" y="890">Chatham</text><text x="1340" y="904">Gillingham</text><text x="1375" y="890">Rainham</text>
<text x="1233" y="915">Cuxton</text><text x="1234" y="936">Halling</text><text x="1226" y="958">Snodland</text><text x="1220" y="981">New Hythe</text><text x="1226" y="1005">Aylesford</text><text x="1269" y="1016">Maidstone East</text><text x="1269" y="1030">Maidstone Barracks</text><text x="1269" y="1052">Maidstone West</text>
<text x="967" y="915">Eynsford</text><text x="990" y="937">Shoreham</text><text x="1011" y="959">Otford</text><text x="1015" y="1013">Bat and</text><text x="1015" y="1023">Ball</text><text x="973" y="1013">Dunton</text><text x="973" y="1023">Green</text><text x="1018" y="1067">Sevenoaks</text>
<text x="1044" y="992">Kemsing</text><text x="1066" y="1005">Borough Green</text><text x="1066" y="1015">and Wrotham</text><text x="1116" y="1029">West</text><text x="1116" y="1039">Malling</text><text x="1167" y="1005">East</text><text x="1167" y="1015">Malling</text><text x="1195" y="1030">Barming</text>
<text x="893" y="134">Cambridge</text><text x="893" y="156">Cambridge South</text><text x="893" y="182">Shelford</text><text x="893" y="204">Whittlesford Parkway</text><text x="893" y="226">Great Chesterford</text><text x="893" y="251">Audley End</text><text x="893" y="273">Newport</text><text x="893" y="292">Elsenham</text><text x="927" y="301">Stansted</text><text x="927" y="311">Airport</text><text x="893" y="325">Stansted Mountfitchet</text><text x="893" y="352">Bishops Stortford</text><text x="893" y="382">Sawbridgeworth</text><text x="893" y="412">Harlow Mill</text><text x="893" y="442">Harlow Town</text><text x="893" y="472">Roydon</text>
<text x="730" y="166">Royston</text><text x="779" y="177">Meldreth</text><text x="809" y="163">Shepreth</text><text x="848" y="177">Foxton</text><text x="745" y="191">Ashwell and Morden</text><text x="725" y="214">Baldock</text><text x="703" y="233">Letchworth</text><text x="703" y="243">Garden City</text>
<text x="678" y="265">Hitchin</text><text x="678" y="304">Stevenage</text><text x="678" y="337">Knebworth</text><text x="678" y="370">Welwyn North</text><text x="679" y="395">Welwyn</text><text x="679" y="405">Garden City</text><text x="678" y="428">Hatfield</text><text x="678" y="457">Welham Green</text><text x="678" y="486">Brookmans Park</text><text x="680" y="513">Potters Bar</text><text x="680" y="533">Hadley</text><text x="680" y="543">Wood</text>
<text x="772" y="336">Watton-at-Stone</text><text x="734" y="406">Hertford</text><text x="734" y="416">North</text><text x="736" y="466">Bayford</text><text x="751" y="533">Cuffley</text>
<text x="780" y="420">Hertford</text><text x="780" y="430">East</text><text x="813" y="405">Ware</text><text x="806" y="437">St Margarets</text><text x="813" y="472">Rye House</text><text x="808" y="508">Broxbourne</text><text x="837" y="534">Cheshunt</text>
<text x="1147" y="453">Witham</text><text x="1100" y="473">Hatfield Peveral</text><text x="1086" y="494">Beaulieu Park</text><text x="1073" y="515">Chelmsford</text><text x="1046" y="541">Ingatestone</text><text x="1054" y="588">Shenfield</text><text x="990" y="598">Brentwood</text>
<text x="1104" y="570">Billericay</text><text x="1169" y="570">Wickford</text><text x="1193" y="607">Rayleigh</text><text x="1221" y="633">Hockley</text><text x="1275" y="644">Rochford</text><text x="1310" y="618">Southend</text><text x="1310" y="628">Airport</text><text x="1344" y="643">Prittlewell</text><text x="1378" y="618">Southend</text><text x="1378" y="628">Victoria</text>
<text x="980" y="668">West Horndon</text><text x="1052" y="684">Laindon</text><text x="1115" y="668">Basildon</text><text x="1179" y="668">Pitsea</text><text x="1214" y="684">Benfleet</text><text x="1248" y="668">Leigh-on-Sea</text><text x="1292" y="684">Chalkwell</text><text x="1328" y="667">Westcliff</text><text x="1371" y="684">Southend</text><text x="1371" y="694">Central</text><text x="1410" y="660">Southend</text><text x="1410" y="670">East</text><text x="1445" y="683">Thorpe Bay</text><text x="1470" y="668">Shoeburyness</text>
<text x="1152" y="713">Stanford-le-Hope</text><text x="1115" y="752">East Tilbury</text><text x="1026" y="766">Tilbury Town</text><text x="970" y="751">Grays</text><text x="937" y="764">Purfleet</text><text x="902" y="750">Rainham</text><text x="965" y="705">Ockendon</text><text x="965" y="733">Chafford Hundred</text><text x="890" y="684">Upminster</text><text x="890" y="605">Romford</text>
<text x="853" y="640">A=Stratford</text><text x="861" y="650">International</text><text x="791" y="642">A</text><text x="813" y="654">Stratford</text><text x="815" y="603">Tottenham Hale</text><text x="773" y="696">Barking</text><text x="778" y="732">Fenchurch</text><text x="778" y="742">Street</text>
<text x="510" y="533">Bushey</text><text x="467" y="668">Marylebone</text><text x="546" y="668">Euston</text><text x="504" y="696">Paddington</text><text x="428" y="760">Heathrow</text><text x="428" y="770">Airport</text><text x="492" y="755">Kensington Olympia</text>
<text x="585" y="700">St Pancras</text><text x="585" y="710">International</text><text x="617" y="734">Farringdon</text><text x="679" y="679">Kings</text><text x="679" y="689">Cross</text><text x="679" y="621">Finsbury</text><text x="679" y="631">Park</text><text x="691" y="701">Moorgate</text><text x="681" y="712">Liverpool Street</text>
<text x="717" y="783">Blackfriars</text><text x="726" y="806">Cannon</text><text x="726" y="816">Street</text><text x="744" y="841">London Bridge</text><text x="575" y="791">Victoria</text><text x="604" y="813">Charing Cross</text><text x="611" y="832">Waterloo</text><text x="663" y="827">Waterloo</text><text x="663" y="837">East</text><text x="537" y="875">Clapham Junction</text><text x="575" y="913">Wimbledon</text><text x="773" y="905">Bromley South</text>
</g>
</svg>
</body></html>
